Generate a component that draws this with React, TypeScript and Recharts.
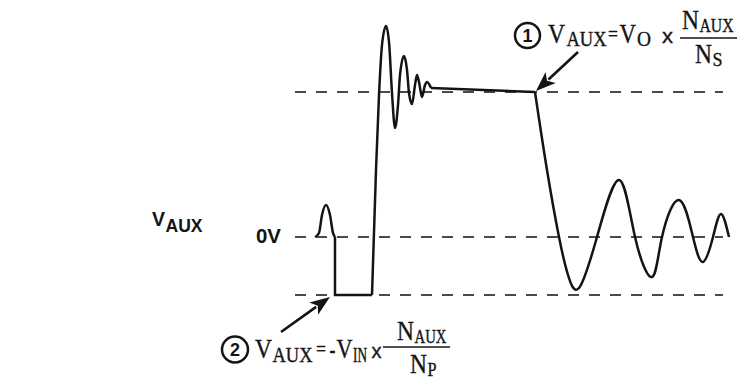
import React from "react";
import { LineChart, Line, XAxis, YAxis, ReferenceLine } from "recharts";

// time (arbitrary units) and V_AUX (arbitrary units; reflected Vo level = 10, -Vin level = -4)
const bumpT = [2.0, 2.4, 2.7, 3.1, 3.5, 3.8, 4.0];
const bumpV = [0, 0.28, 1.52, 2.21, 1.52, 0.28, 0];

const squareT = [4.0, 4.0, 7.7];
const squareV = [0, -4, -4];

const ringT = [7.7, 8.1, 8.4, 8.7, 9.1, 9.4, 9.7, 10.0, 10.3, 10.5, 10.9, 11.2, 11.4, 11.7, 12.0, 12.2, 12.4, 12.7, 13.0, 13.2, 13.6];
const ringV = [-4, 4.62, 9.79, 13.24, 14.55, 13.45, 9.93, 7.52, 9.1, 11.17, 12.48, 11.52, 9.93, 9.17, 10.48, 11.17, 10.69, 9.66, 10.48, 10.69, 10.28];

const plateauT = [13.6, 24.0];
const plateauV = [10.28, 10.0];

const decayT = [24.0, 25.2, 26.4, 27.3, 28.4, 30.2, 32.4, 34.0, 35.7, 36.7, 38.4, 39.8, 40.8, 41.8, 42.6, 43.4];
const decayV = [10.0, 4.62, 0, -2.62, -3.52, 0, 3.93, 0, -2.76, 0, 2.55, 0, -1.72, 0, 1.59, 0];

const levels = [10, 0, -4];
const levelStart = 0;
const levelEnd = 42.8;

const zip = (t: number[], v: number[]) => t.map((x, i) => ({ t: x, v: v[i] }));

const bumpData = zip(bumpT, bumpV);
const squareData = zip(squareT, squareV);
const ringData = zip(ringT, ringV);
const plateauData = zip(plateauT, plateauV);
const decayData = zip(decayT, decayV);

const W = 739;
const H = 380;
const INK = "#141414";
const SERIF = "'Liberation Serif', 'Times New Roman', serif";
const SANS = "'Liberation Sans', Arial, sans-serif";

// advance widths (em) of the glyphs used
const SERIF_ADV: Record<string, number> = { V: 0.722, A: 0.722, U: 0.722, X: 0.722, N: 0.722, O: 0.722, S: 0.556, P: 0.556, I: 0.333, "=": 0.564, "-": 0.333 };
const SANS_ADV: Record<string, number> = { x: 0.5, V: 0.667, A: 0.722, U: 0.722, X: 0.667, "0": 0.556 };

function Arrow({ x1, y1, x2, y2 }: { x1: number; y1: number; x2: number; y2: number }) {
  const dx = x2 - x1;
  const dy = y2 - y1;
  const len = Math.hypot(dx, dy);
  const ux = dx / len;
  const uy = dy / len;
  const hl = 20;
  const hw = 7.5;
  const bx = x2 - hl * ux;
  const by = y2 - hl * uy;
  const nx = -uy;
  const ny = ux;
  return (
    <g>
      <line x1={x1} y1={y1} x2={bx + 3 * ux} y2={by + 3 * uy} stroke={INK} strokeWidth={2.6} />
      <polygon
        points={`${x2},${y2} ${bx + hw * nx},${by + hw * ny} ${bx + 5 * ux},${by + 5 * uy} ${bx - hw * nx},${by - hw * ny}`}
        fill={INK}
      />
    </g>
  );
}

type Piece = { x: number; y: number; s: number; w: number; t: string; sans?: boolean };
function Formula({ pieces, bold }: { pieces: Piece[]; bold?: boolean }) {
  return (
    <g>
      {pieces.map((p, i) => {
        const table = p.sans ? SANS_ADV : SERIF_ADV;
        const nat = p.t.split("").reduce((a, c) => a + (table[c] ?? 0.6), 0) * p.s;
        const sx = p.w / nat;
        return (
          <text
            key={i}
            transform={`translate(${p.x},${p.y}) scale(${sx.toFixed(3)},1)`}
            x={0}
            y={0}
            fontSize={p.s}
            fontFamily={p.sans ? SANS : SERIF}
            fontWeight={bold ? "bold" : "normal"}
            fill={INK}
            stroke={INK}
            strokeWidth={bold ? 0 : 0.35}
          >
            {p.t}
          </text>
        );
      })}
    </g>
  );
}

export default function App() {
  const lineProps = {
    type: "monotone" as const,
    dataKey: "v",
    stroke: INK,
    strokeWidth: 2.5,
    dot: false,
    activeDot: false,
    isAnimationActive: false,
  };
  return (
    <div style={{ position: "absolute", left: 0, top: 0, width: W, height: H, background: "#fff" }}>
      <LineChart width={W} height={H} margin={{ top: 0, right: 0, bottom: 0, left: 0 }}>
        <XAxis type="number" dataKey="t" domain={[-29.5, 44.4]} hide allowDataOverflow />
        <YAxis type="number" dataKey="v" domain={[-9.862, 16.345]} hide allowDataOverflow />
        {levels.map((lv) => (
          <ReferenceLine
            key={lv}
            segment={[
              { x: levelStart, y: lv },
              { x: levelEnd, y: lv },
            ]}
            stroke="#4a4a4a"
            strokeWidth={1.8}
            strokeDasharray="11 10"
          />
        ))}
        <Line {...lineProps} data={bumpData} />
        <Line {...lineProps} type="linear" data={squareData} />
        <Line {...lineProps} data={ringData} />
        <Line {...lineProps} type="linear" data={plateauData} />
        <Line {...lineProps} type="natural" data={decayData} />
      </LineChart>
      <svg width={W} height={H} style={{ position: "absolute", left: 0, top: 0, pointerEvents: "none" }}>
        {/* V_AUX label */}
        <Formula
          bold
          pieces={[
            { x: 152, y: 226, s: 20, w: 13, t: "V", sans: true },
            { x: 165.5, y: 232, s: 18, w: 37, t: "AUX", sans: true },
          ]}
        />
        <Formula bold pieces={[{ x: 256, y: 243, s: 20, w: 25, t: "0V", sans: true }]} />

        {/* annotation 1 */}
        <circle cx={527.5} cy={35.5} r={12.5} fill="none" stroke={INK} strokeWidth={2.5} />
        <text x={527.5} y={42} textAnchor="middle" fontFamily={SANS} fontWeight="bold" fontSize={18} fill={INK}>1</text>
        <Formula
          pieces={[
            { x: 548, y: 43, s: 28, w: 17, t: "V" },
            { x: 566.5, y: 45.5, s: 20, w: 40, t: "AUX" },
            { x: 608, y: 41, s: 22, w: 10, t: "=" },
            { x: 619.5, y: 43, s: 28, w: 16.5, t: "V" },
            { x: 637, y: 45.5, s: 20, w: 14, t: "O" },
            { x: 662, y: 43, s: 20, w: 11, t: "x", sans: true },
          ]}
        />
        <Formula
          pieces={[
            { x: 682, y: 29, s: 28, w: 17, t: "N" },
            { x: 699.5, y: 32, s: 19, w: 34, t: "AUX" },
          ]}
        />
        <line x1={680} y1={38} x2={737} y2={38} stroke={INK} strokeWidth={1.3} />
        <Formula
          pieces={[
            { x: 695, y: 63, s: 28, w: 17, t: "N" },
            { x: 712.5, y: 66, s: 19, w: 10, t: "S" },
          ]}
        />
        <Arrow x1={578} y1={52} x2={536} y2={91} />

        {/* annotation 2 */}
        <circle cx={235} cy={349.5} r={13} fill="none" stroke={INK} strokeWidth={2.5} />
        <text x={235} y={356} textAnchor="middle" fontFamily={SANS} fontWeight="bold" fontSize={18} fill={INK}>2</text>
        <Formula
          pieces={[
            { x: 255, y: 358, s: 28, w: 17, t: "V" },
            { x: 272.5, y: 361.5, s: 20, w: 40, t: "AUX" },
            { x: 316, y: 356, s: 22, w: 10, t: "=" },
            { x: 329.5, y: 358, s: 28, w: 6, t: "-" },
            { x: 336.5, y: 358, s: 28, w: 16, t: "V" },
            { x: 353, y: 361.5, s: 20, w: 14, t: "IN" },
            { x: 371.5, y: 358, s: 20, w: 10, t: "x", sans: true },
          ]}
        />
        <Formula
          pieces={[
            { x: 397, y: 339.5, s: 28, w: 17, t: "N" },
            { x: 414.5, y: 342.5, s: 19, w: 32, t: "AUX" },
          ]}
        />
        <line x1={383} y1={347} x2={450} y2={347} stroke={INK} strokeWidth={1.3} />
        <Formula
          pieces={[
            { x: 410, y: 373, s: 28, w: 17, t: "N" },
            { x: 427.5, y: 376, s: 19, w: 9, t: "P" },
          ]}
        />
        <Arrow x1={281} y1={332} x2={330} y2={297} />
      </svg>
    </div>
  );
}
